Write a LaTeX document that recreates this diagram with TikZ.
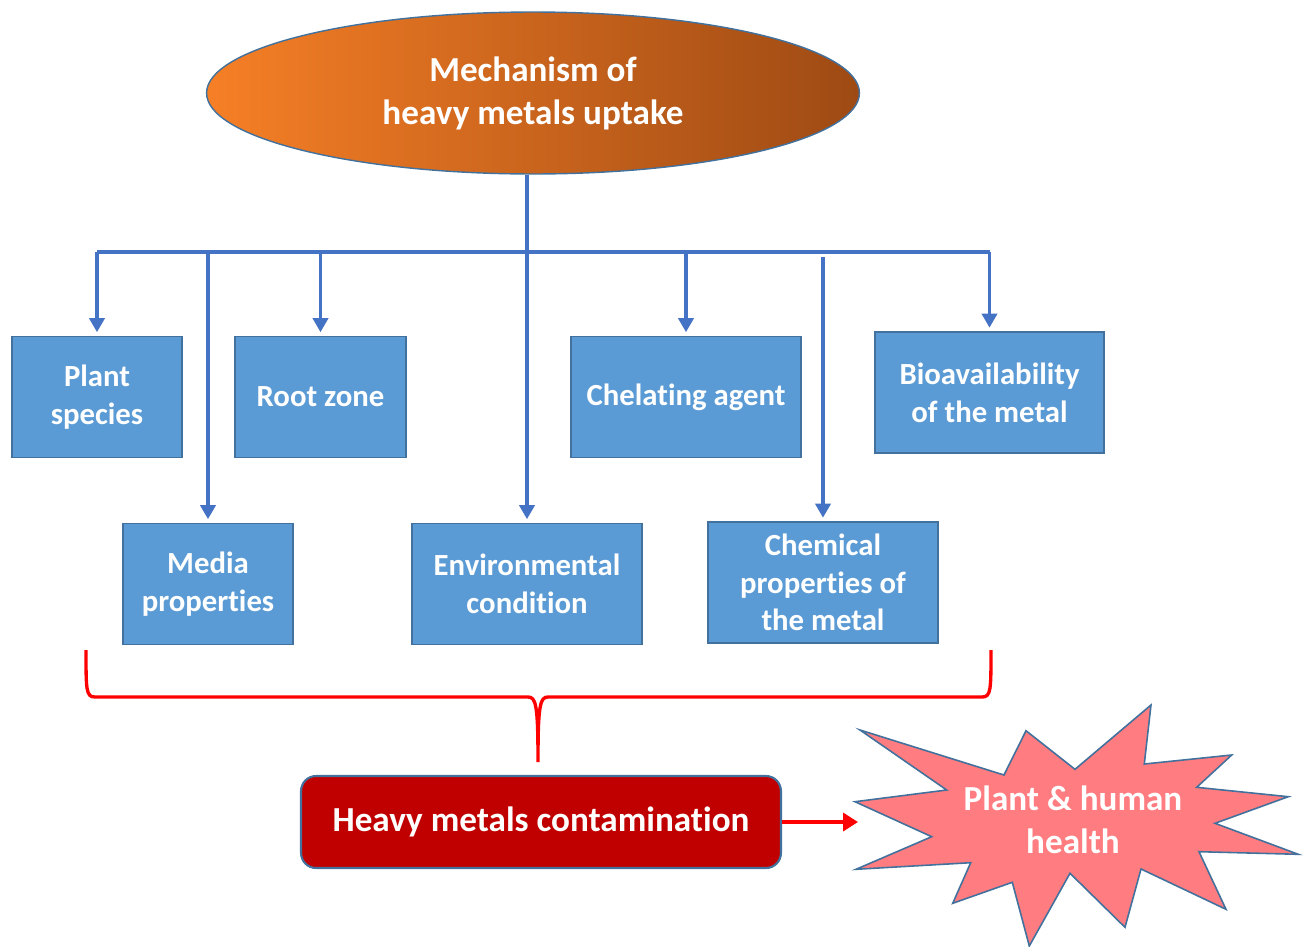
\documentclass[tikz,border=0pt]{standalone}
\usepackage{fontspec}
\setmainfont{Carlito}[RawFeature=-liga]
\usetikzlibrary{shapes.geometric,arrows.meta}

\definecolor{boxblue}{HTML}{5B9BD5}
\definecolor{edgeblue}{HTML}{41719C}
\definecolor{lineblue}{HTML}{4472C4}
\definecolor{darkred}{HTML}{C00000}
\definecolor{starpink}{HTML}{FF7C80}
\definecolor{orangeL}{HTML}{F67F26}
\definecolor{orangeR}{HTML}{9E4A14}

\begin{document}
\begin{tikzpicture}[
x=0.02cm, y=-0.02cm,
factor/.style={
draw=edgeblue,
fill=boxblue,
line width=0.9pt,
text=white,
font=\bfseries\fontsize{17.5}{21.5}\selectfont,
align=center,
minimum height=2.42cm,
inner sep=2pt
},
feed/.style={draw=lineblue, line width=2.1pt, -{Triangle[length=0.28cm,width=0.3cm]}, shorten >=2pt},
bus/.style={draw=lineblue, line width=2.1pt}
]
\useasboundingbox (0,0) rectangle (1303,947);

\node[ellipse, draw=edgeblue, line width=0.8pt, left color=orangeL, right color=orangeR,
minimum width=13.06cm, minimum height=3.24cm, inner sep=0, text=white, align=center,
font=\bfseries\fontsize{20}{24.5}\selectfont] (M) at (533,93) {Mechanism of\\heavy metals uptake};

\node[factor, minimum width=3.40cm] (P) at (97,397) {Plant\\species};
\node[factor, minimum width=3.42cm] (R) at (320.5,397) {Root zone};
\node[factor, minimum width=4.60cm] (A) at (686,397) {Chelating agent};
\node[factor, minimum width=4.58cm] (B) at (989.5,392.5) {Bioavailability\\of the metal};
\node[factor, minimum width=3.40cm] (D) at (208,584) {Media\\properties};
\node[factor, minimum width=4.60cm] (E) at (527,584) {Environmental\\condition};
\node[factor, minimum width=4.60cm] (C) at (823,582.5) {Chemical\\properties of\\the metal};

\draw[bus] (P.north |- 0,252) -- (B.north |- 0,252);
\draw[bus] (E.north |- M.south) -- (E.north |- 0,252);
\draw[feed] (E.north |- 0,252) -- (E.north);
\draw[feed] (P.north |- 0,252) -- (P.north);
\draw[feed] (D.north |- 0,252) -- (D.north);
\draw[feed] (R.north |- 0,252) -- (R.north);
\draw[feed] (A.north |- 0,252) -- (A.north);
\draw[feed] (C.north |- 0,257) -- (C.north);
\draw[feed] (B.north |- 0,252) -- (B.north);

% brace
\draw[red, line width=1.9pt]
(86,650) .. controls (86,690) and (86,697) .. (95,697) -- (528,697)
.. controls (536,697) and (538,705) .. (538,762)
.. controls (538,705) and (540,697) .. (548,697) -- (982,697)
.. controls (991,697) and (991,690) .. (991,650);

\node[draw=edgeblue, line width=1.2pt, fill=darkred, rounded corners=0.3cm,
minimum width=9.6cm, minimum height=1.84cm, text=white,
font=\bfseries\fontsize{20}{24.5}\selectfont] (H) at (541,822) {Heavy metals contamination};

% star
\draw[draw=edgeblue, line width=0.9pt, fill=starpink]
(860,730) -- (1004,775) -- (1026,730.7) -- (1075,769.3) -- (1151,705) -- (1144.3,764)
-- (1231.7,755) -- (1196.7,787.3) -- (1288.3,796.7) -- (1215,823.3) -- (1298.3,854.3)
-- (1199,851.7) -- (1226,909.3) -- (1141,869) -- (1125,927.3) -- (1070,873.3)
-- (1029.3,946) -- (1012.3,882.3) -- (952.7,903.3) -- (970.7,862.7) -- (856,869.3)
-- (931.7,836.7) -- (855,801.7) -- (946.7,790) -- cycle;
\node[text=white, align=center, font=\bfseries\fontsize{20}{24.5}\selectfont] (S) at (1073,820) {Plant \& human\\health};

\coordinate (SI) at (858,822);
\draw[red, line width=2.4pt, -{Triangle[length=0.3cm,width=0.36cm]}] (H.east) -- (SI);

\end{tikzpicture}
\end{document}
